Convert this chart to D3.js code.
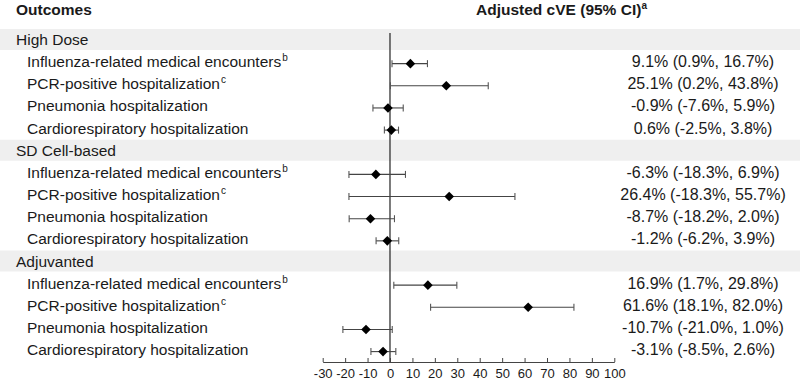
<!DOCTYPE html>
<html>
<head>
<meta charset="utf-8">
<script src="https://cdn.jsdelivr.net/npm/d3@7"></script>
<style>
  html, body { margin: 0; padding: 0; background: #fff; }
  svg { display: block; font-family: "Liberation Sans", Arial, sans-serif; }
</style>
</head>
<body>
<svg id="chart" width="800" height="382"></svg>
<script>
const groups = ['High Dose', 'SD Cell-based', 'Adjuvanted'];
const outcomes = [
  'Influenza-related medical encounters',
  'PCR-positive hospitalization',
  'Pneumonia hospitalization',
  'Cardiorespiratory hospitalization',
];
const outcomeNotes = ['b', 'c', '', ''];
const estimates = [[9.1, 25.1, -0.9, 0.6], [-6.3, 26.4, -8.7, -1.2], [16.9, 61.6, -10.7, -3.1]];
const lower = [[0.9, 0.2, -7.6, -2.5], [-18.3, -18.3, -18.2, -6.2], [1.7, 18.1, -21.0, -8.5]];
const upper = [[16.7, 43.8, 5.9, 3.8], [6.9, 55.7, 2.0, 3.9], [29.8, 82.0, 1.0, 2.6]];
const tickValues = [-30, -20, -10, 0, 10, 20, 30, 40, 50, 60, 70, 80, 90, 100];

const svg = d3.select('#chart');
const W = 800;

// flatten into rows: one header row per group + its outcomes
const rows = [];
groups.forEach((g, gi) => {
  rows.push({ type: 'group', label: g });
  outcomes.forEach((o, oi) => {
    rows.push({
      type: 'outcome', label: o, note: outcomeNotes[oi],
      est: estimates[gi][oi], lo: lower[gi][oi], hi: upper[gi][oi],
    });
  });
});
rows.forEach((r, i) => { r.i = i; });

const x = d3.scaleLinear().domain([-30, 100]).range([322.7, 614.3]);
const y = d3.scaleLinear().domain([0, rows.length - 1]).range([39.5, 349.6]);
const axisY = 362;
const textColor = '#1a1a1a';

// shaded group bands
svg.append('g').selectAll('rect')
  .data(rows.filter(r => r.type === 'group'))
  .join('rect')
  .attr('x', 0)
  .attr('y', d => y(d.i) - 10.5)
  .attr('width', W)
  .attr('height', 21)
  .attr('fill', '#efefef');

// column headers
svg.append('text')
  .attr('x', 16).attr('y', 15)
  .attr('font-size', 15.5).attr('font-weight', 'bold').attr('fill', textColor)
  .text('Outcomes');

const hdr = svg.append('text')
  .attr('x', 476).attr('y', 15)
  .attr('font-size', 15.5).attr('font-weight', 'bold').attr('fill', textColor);
hdr.append('tspan').text('Adjusted cVE (95% CI)');
hdr.append('tspan').attr('font-size', 10).attr('dy', -6).text('a');

// row labels
const labels = svg.append('g').selectAll('text')
  .data(rows)
  .join('text')
  .attr('x', d => d.type === 'group' ? 16 : 27)
  .attr('y', d => y(d.i) + 5.5)
  .attr('font-size', 15.5)
  .attr('fill', textColor);
labels.append('tspan').text(d => d.label);
labels.filter(d => d.note).append('tspan')
  .attr('font-size', 10).attr('dx', 1).attr('dy', -6)
  .text(d => d.note);

// zero reference line
svg.append('line')
  .attr('x1', x(0)).attr('x2', x(0))
  .attr('y1', 33).attr('y2', axisY)
  .attr('stroke', '#222').attr('stroke-width', 1.2);

// axis
svg.append('g')
  .attr('transform', `translate(0,${axisY})`)
  .call(d3.axisBottom(x).tickValues(tickValues).tickFormat(d => String(d))
    .tickSize(-4).tickSizeOuter(0).tickPadding(7))
  .call(a => a.select('.domain').attr('stroke', '#444'))
  .call(a => a.selectAll('.tick line').attr('stroke', '#444'))
  .call(a => a.selectAll('text')
    .attr('font-family', '"Liberation Sans", Arial, sans-serif')
    .attr('font-size', 13).attr('fill', textColor));

// whiskers + diamonds
const pts = rows.filter(r => r.type === 'outcome');
const marks = svg.append('g').selectAll('g')
  .data(pts)
  .join('g')
  .attr('transform', d => `translate(0,${y(d.i) + 2})`);

marks.append('line')
  .attr('x1', d => x(d.lo)).attr('x2', d => x(d.hi))
  .attr('stroke', '#444').attr('stroke-width', 1.1);
marks.selectAll('line.cap')
  .data(d => [d.lo, d.hi])
  .join('line')
  .attr('class', 'cap')
  .attr('x1', v => x(v)).attr('x2', v => x(v))
  .attr('y1', -3.5).attr('y2', 3.5)
  .attr('stroke', '#555').attr('stroke-width', 1.1);
const r = 4.8;
marks.append('path')
  .attr('d', `M0,${-r}L${r},0L0,${r}L${-r},0Z`)
  .attr('transform', d => `translate(${x(d.est)},0)`)
  .attr('fill', '#000');

// value text column
svg.append('g').selectAll('text')
  .data(pts)
  .join('text')
  .attr('x', 703)
  .attr('y', d => y(d.i) + 5.5)
  .attr('text-anchor', 'middle')
  .attr('font-size', 16)
  .attr('fill', textColor)
  .text(d => `${d.est.toFixed(1)}% (${d.lo.toFixed(1)}%, ${d.hi.toFixed(1)}%)`);
</script>
</body>
</html>
